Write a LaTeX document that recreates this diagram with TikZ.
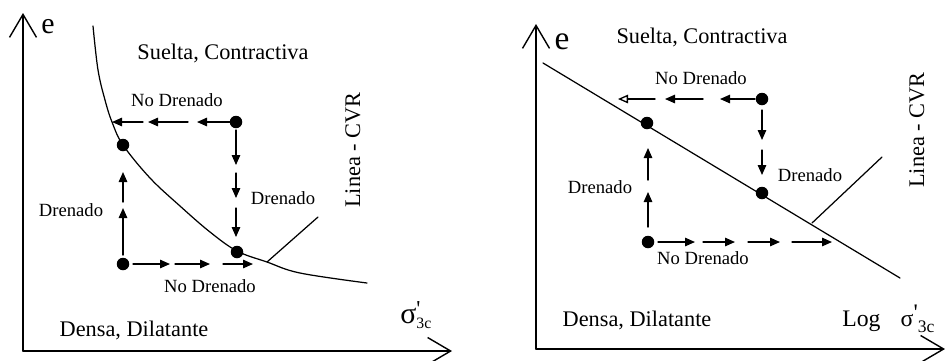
\documentclass[tikz,border=0pt]{standalone}
\usepackage{fontspec}
\setmainfont{Liberation Serif}
\usetikzlibrary{arrows.meta,calc}
\begin{document}
\begin{tikzpicture}[x=0.02cm, y=-0.02cm, line cap=round, line join=round,
    dot/.style={circle, fill, inner sep=0pt, minimum size=2.5mm},
    axis/.style={line width=0.8pt, -{Straight Barb[length=4.6mm, width=5.4mm]}},
    cvr/.style={line width=0.7pt},
    flow/.style={line width=0.75pt, -{Triangle[length=2mm, width=1.7mm]}},
    oflow/.style={line width=0.75pt, -{Triangle[open, length=2mm, width=1.7mm]}},
    big/.style={font=\fontsize{12.7}{14}\selectfont, inner sep=0pt},
    lbl/.style={font=\fontsize{10.6}{12}\selectfont, inner sep=0pt}]
  \useasboundingbox (0,0) rectangle (945,360);
  % e - sigma'3c
  \coordinate (lO) at (23,351);
  \coordinate (lY) at (23,13);
  \coordinate (lX) at (452,351);
  \draw[axis] (lO) -- (lY);
  \draw[axis] (lO) -- (lX);
  \node[inner sep=0pt, font=\fontsize{17}{17}\selectfont] (le) at (48,27) {e};
  \draw[cvr] plot[smooth, tension=0.6] coordinates {(93,26) (98,70) (105,100) (112,122)
    (123,145) (150,178) (180,206) (210,232) (237,251) (267,262) (300,273) (367,283)};
  \coordinate (lC1) at (267,262);
  \coordinate (lC2) at (318,217);
  \draw[cvr] (lC1) -- (lC2);
  \node[dot] (lTR) at (236,122) {};
  \node[dot] (lUL) at (123,145) {};
  \node[dot] (lLR) at (237,252) {};
  \node[dot] (lLL) at (123,264) {};
  \foreach \a/\b in {4/39,48/88,93/124}
    \draw[flow] ($(lTR)+(-\a,0)$) -- ($(lTR)+(-\b,0)$);
  \foreach \a/\b in {8/43,51/76,86/115}
    \draw[flow] ($(lTR)+(0,\a)$) -- ($(lTR)+(0,\b)$);
  \foreach \a/\b in {9/56,62/92}
    \draw[flow] ($(lLL)+(0,-\a)$) -- ($(lLL)+(0,-\b)$);
  \foreach \a/\b in {10/47,52/87,100/130}
    \draw[flow] ($(lLL)+(\a,0)$) -- ($(lLL)+(\b,0)$);
  \node[big] (lLoose) at (223,53) {Suelta, Contractiva};
  \node[lbl] (lUnd1) at (177,100) {No Drenado};
  \node[lbl] (lDr1) at (71,210) {Drenado};
  \node[lbl] (lDr2) at (283,198) {Drenado};
  \node[lbl] (lUnd2) at (210,286) {No Drenado};
  \node[big, rotate=90] (lCVR) at (353,150) {Linea - CVR};
  \node[big] (lDense) at (134,330) {Densa, Dilatante};
  \node[anchor=base west, inner sep=0pt] (lSig) at (400,323)
    {\fontsize{17}{17}\selectfont σ\rlap{\raisebox{3.5pt}{\fontsize{13}{13}\selectfont\textquotesingle}}\raisebox{-3pt}{\fontsize{9}{9}\selectfont 3c}};
  % e - Log sigma'3c
  \coordinate (rO) at (536,349);
  \coordinate (rY) at (536,24);
  \coordinate (rX) at (945,349);
  \draw[axis] (rO) -- (rY);
  \draw[axis] (rO) -- (rX);
  \node[inner sep=0pt, font=\fontsize{19}{19}\selectfont] (re) at (562,42) {e};
  \coordinate (rC0) at (543,63);
  \coordinate (rC3) at (900,278);
  \draw[cvr] (rC0) -- (rC3);
  \coordinate (rC1) at (812,223);
  \coordinate (rC2) at (882,157);
  \draw[cvr] (rC1) -- (rC2);
  \node[dot] (rTR) at (762,99) {};
  \node[dot] (rUL) at (647,123) {};
  \node[dot] (rLR) at (762,193) {};
  \node[dot] (rLL) at (648,242) {};
  \foreach \a/\b in {7/42,59/97}
    \draw[flow] ($(rTR)+(-\a,0)$) -- ($(rTR)+(-\b,0)$);
  \draw[oflow] ($(rTR)+(-107,0)$) -- ($(rTR)+(-144,0)$);
  \foreach \a/\b in {11/41,51/76}
    \draw[flow] ($(rTR)+(0,\a)$) -- ($(rTR)+(0,\b)$);
  \foreach \a/\b in {15/50,62/94}
    \draw[flow] ($(rLL)+(0,-\a)$) -- ($(rLL)+(0,-\b)$);
  \foreach \a/\b in {10/47,55/87,100/132,144/184}
    \draw[flow] ($(rLL)+(\a,0)$) -- ($(rLL)+(\b,0)$);
  \node[big] (rLoose) at (702,37) {Suelta, Contractiva};
  \node[lbl] (rUnd1) at (701,78) {No Drenado};
  \node[lbl] (rDr1) at (600,187) {Drenado};
  \node[lbl] (rDr2) at (810,175) {Drenado};
  \node[lbl] (rUnd2) at (703,258) {No Drenado};
  \node[big, rotate=90] (rCVR) at (917,130) {Linea - CVR};
  \node[big] (rDense) at (637,320) {Densa, Dilatante};
  \node[anchor=base west, inner sep=0pt] (rSig) at (842,326)
    {\fontsize{13.5}{14}\selectfont Log\hspace{0.85em}σ\raisebox{3pt}{\textquotesingle}\raisebox{-3.5pt}{\fontsize{10}{10}\selectfont 3c}};
\end{tikzpicture}
\end{document}
